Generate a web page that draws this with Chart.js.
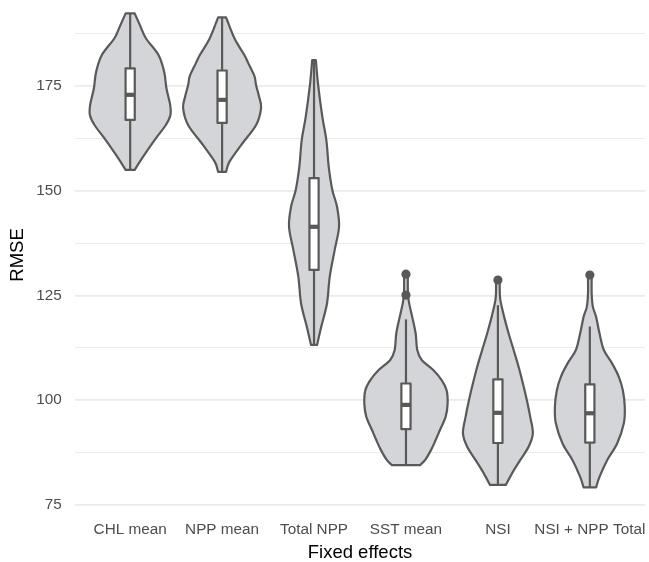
<!DOCTYPE html>
<html>
<head>
<meta charset="utf-8">
<title>RMSE by fixed effects</title>
<script src="https://cdn.jsdelivr.net/npm/chart.js@4/dist/chart.umd.min.js"></script>
<style>
  html, body { margin: 0; padding: 0; background: #ffffff; }
  #wrap { width: 649px; height: 562px; }
</style>
</head>
<body>
<div id="wrap"><canvas id="rmseChart" width="649" height="562"></canvas></div>
<script>
// Model variants on the x axis
const categories = ['CHL mean', 'NPP mean', 'Total NPP', 'SST mean', 'NSI', 'NSI + NPP Total'];

// Violin outlines: RMSE levels and half-width (in category units) at each level
const chlMeanRmse  = [155.0, 158.5, 162.5, 165.7, 168.1, 170.5, 174.4, 178.4, 182.4, 186.4, 189.6, 192.35];
const chlMeanWidth = [0.049, 0.152, 0.279, 0.388, 0.438, 0.435, 0.395, 0.370, 0.308, 0.171, 0.105, 0.049];

const nppMeanRmse  = [154.5, 156.9, 160.9, 165.7, 169.7, 172.5, 175.2, 177.4, 180.4, 182.4, 186.4, 191.4];
const nppMeanWidth = [0.043, 0.079, 0.207, 0.370, 0.424, 0.402, 0.370, 0.351, 0.286, 0.242, 0.134, 0.043];

const totalNppRmse  = [113.2, 117.6, 123.1, 129.5, 135.9, 141.4, 146.2, 150.2, 155.7, 162.1, 167.7, 175.6, 181.2];
const totalNppWidth = [0.033, 0.079, 0.141, 0.171, 0.225, 0.272, 0.250, 0.199, 0.160, 0.134, 0.090, 0.043, 0.020];

const sstMeanRmse  = [84.5, 85.7, 88.1, 90.5, 92.9, 96.1, 99.2, 102.4, 104.8, 107.2, 109.6, 112.0, 116.0, 119.9, 123.0, 125.1, 127.5, 130.1];
const sstMeanWidth = [0.152, 0.207, 0.272, 0.323, 0.370, 0.432, 0.453, 0.442, 0.388, 0.297, 0.171, 0.123, 0.105, 0.068, 0.036, 0.022, 0.020, 0.020];

const nsiRmse  = [79.8, 82.5, 85.7, 88.9, 92.1, 96.1, 100.0, 104.0, 108.0, 112.0, 116.0, 119.9, 123.9, 126.5, 128.7];
const nsiWidth = [0.087, 0.152, 0.242, 0.334, 0.380, 0.351, 0.315, 0.272, 0.225, 0.171, 0.116, 0.068, 0.027, 0.020, 0.020];

const nsiNppRmse  = [79.2, 81.7, 85.7, 89.7, 94.5, 98.4, 102.4, 105.6, 108.8, 112.0, 116.0, 119.9, 122.3, 125.5, 129.9];
const nsiNppWidth = [0.068, 0.105, 0.188, 0.297, 0.370, 0.380, 0.359, 0.315, 0.242, 0.152, 0.105, 0.068, 0.033, 0.020, 0.020];

// Box plot summaries per category
const whiskerLow  = [155.0, 154.5, 113.2, 84.5, 79.8, 79.2];
const boxQ1       = [166.9, 166.2, 131.1, 93.1, 89.8, 89.9];
const boxMedian   = [172.9, 171.7, 141.4, 98.9, 97.0, 96.9];
const boxQ3       = [179.2, 178.7, 153.0, 104.0, 105.0, 103.8];
const whiskerHigh = [192.35, 191.4, 181.2, 119.3, 122.7, 117.6];

// Outlying runs beyond the whiskers
const outlierGroup = [3, 3, 4, 5];
const outlierRmse  = [125.1, 130.1, 128.7, 129.9];

// Y axis gridlines and labelled ticks
const yGridValues = [75, 87.5, 100, 112.5, 125, 137.5, 150, 162.5, 175, 187.5];
const yTickLabels = [75, 100, 125, 150, 175];

const violinProfiles = [
  { rmse: chlMeanRmse,  width: chlMeanWidth },
  { rmse: nppMeanRmse,  width: nppMeanWidth },
  { rmse: totalNppRmse, width: totalNppWidth },
  { rmse: sstMeanRmse,  width: sstMeanWidth },
  { rmse: nsiRmse,      width: nsiWidth },
  { rmse: nsiNppRmse,   width: nsiNppWidth }
];

const OUTLINE = '#595959';
const VIOLIN_FILL = '#d4d5d8';
const BOX_HALF = 0.05;

// Smooth curve through a list of canvas points (Catmull-Rom as cubic Beziers)
function curveThrough(ctx, pts) {
  for (let k = 0; k < pts.length - 1; k++) {
    const p0 = pts[k - 1] || pts[k];
    const p1 = pts[k];
    const p2 = pts[k + 1];
    const p3 = pts[k + 2] || pts[k + 1];
    const c1x = p1.x + (p2.x - p0.x) / 6, c1y = p1.y + (p2.y - p0.y) / 6;
    const c2x = p2.x - (p3.x - p1.x) / 6, c2y = p2.y - (p3.y - p1.y) / 6;
    ctx.bezierCurveTo(c1x, c1y, c2x, c2y, p2.x, p2.y);
  }
}

const violinPlugin = {
  id: 'violinLayer',
  beforeDatasetsDraw(chart) {
    const { ctx } = chart;
    const xs = chart.scales.x, ys = chart.scales.y;
    ctx.save();
    ctx.lineJoin = 'round';
    ctx.lineCap = 'butt';
    violinProfiles.forEach((prof, i) => {
      const left = prof.rmse.map((v, k) => ({ x: xs.getPixelForValue(i - prof.width[k]), y: ys.getPixelForValue(v) }));
      const right = prof.rmse.map((v, k) => ({ x: xs.getPixelForValue(i + prof.width[k]), y: ys.getPixelForValue(v) })).reverse();

      // violin body
      ctx.beginPath();
      ctx.moveTo(left[0].x, left[0].y);
      curveThrough(ctx, left);
      ctx.lineTo(right[0].x, right[0].y);
      curveThrough(ctx, right);
      ctx.closePath();
      ctx.fillStyle = VIOLIN_FILL;
      ctx.fill();
      ctx.lineWidth = 2.2;
      ctx.strokeStyle = OUTLINE;
      ctx.stroke();

      // whiskers
      const cx = xs.getPixelForValue(i);
      ctx.beginPath();
      ctx.moveTo(cx, ys.getPixelForValue(whiskerLow[i]));
      ctx.lineTo(cx, ys.getPixelForValue(whiskerHigh[i]));
      ctx.lineWidth = 2.2;
      ctx.stroke();

      // box
      const bl = xs.getPixelForValue(i - BOX_HALF);
      const br = xs.getPixelForValue(i + BOX_HALF);
      const bt = ys.getPixelForValue(boxQ3[i]);
      const bb = ys.getPixelForValue(boxQ1[i]);
      ctx.beginPath();
      ctx.rect(bl, bt, br - bl, bb - bt);
      ctx.fillStyle = '#ffffff';
      ctx.fill();
      ctx.lineWidth = 2.2;
      ctx.stroke();

      // median
      const my = ys.getPixelForValue(boxMedian[i]);
      ctx.beginPath();
      ctx.moveTo(bl, my);
      ctx.lineTo(br, my);
      ctx.lineWidth = 4.2;
      ctx.stroke();
    });
    ctx.restore();
  }
};

// Pin axis sizes so the plotting panel keeps fixed edges
function pinBox(size, key) {
  return (scale) => {
    scale[key] = size;
    scale.paddingLeft = 0;
    scale.paddingRight = 0;
    scale.paddingTop = 0;
    scale.paddingBottom = 0;
  };
}

Chart.defaults.font.family = "'Liberation Sans', Arial, sans-serif";

new Chart(document.getElementById('rmseChart'), {
  type: 'scatter',
  data: {
    datasets: [{
      label: 'Outliers',
      data: outlierGroup.map((g, k) => ({ x: g, y: outlierRmse[k] })),
      pointRadius: 4.6,
      pointHoverRadius: 4.6,
      pointBackgroundColor: OUTLINE,
      pointBorderWidth: 0
    }]
  },
  options: {
    responsive: false,
    animation: false,
    devicePixelRatio: 1,
    layout: { autoPadding: false, padding: { left: 0, right: 4, top: 0, bottom: 0 } },
    plugins: {
      legend: { display: false },
      tooltip: { enabled: false }
    },
    scales: {
      x: {
        type: 'linear',
        min: -0.6,
        max: 5.6,
        afterBuildTicks(scale) {
          scale.ticks = categories.map((c, i) => ({ value: i }));
        },
        afterFit: pinBox(52, 'height'),
        grid: { display: false, drawTicks: false },
        border: { display: false },
        ticks: {
          autoSkip: false,
          maxRotation: 0,
          minRotation: 0,
          padding: 11,
          color: '#4d4d4d',
          font: { size: 15.3 },
          callback: (v) => categories[v]
        },
        title: {
          display: true,
          text: 'Fixed effects',
          color: '#000000',
          font: { size: 18.5, lineHeight: 1 },
          padding: { top: 0, bottom: 0 }
        }
      },
      y: {
        type: 'linear',
        min: 73.81,
        max: 195.53,
        afterBuildTicks(scale) {
          scale.ticks = yGridValues.map(v => ({ value: v }));
        },
        afterFit: pinBox(75, 'width'),
        grid: {
          drawTicks: false,
          color: '#ebebeb',
          lineWidth: (c) => (yTickLabels.includes(c.tick && c.tick.value) ? 1.7 : 1.0)
        },
        border: { display: false },
        ticks: {
          padding: 13.3,
          color: '#4d4d4d',
          font: { size: 15.3 },
          callback: (v) => (yTickLabels.includes(v) ? String(v) : '')
        },
        title: {
          display: true,
          text: 'RMSE',
          color: '#000000',
          font: { size: 18.5, lineHeight: 1 },
          padding: { top: 8.3, bottom: 0 }
        }
      }
    }
  },
  plugins: [violinPlugin]
});
</script>
</body>
</html>
